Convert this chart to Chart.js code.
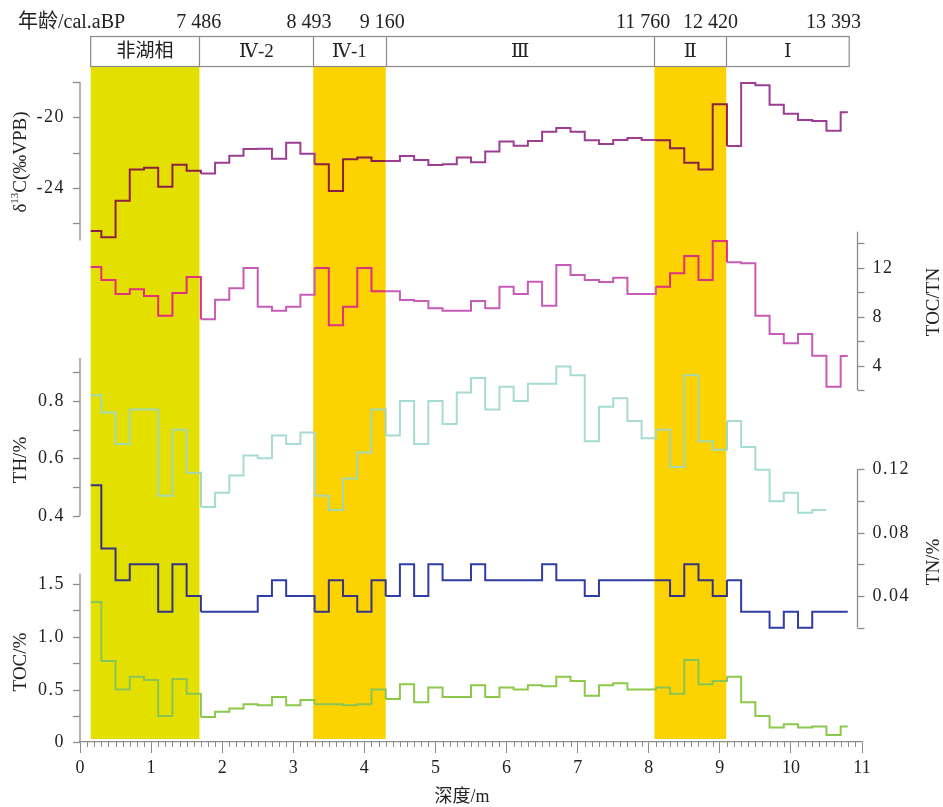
<!DOCTYPE html>
<html>
<head>
<meta charset="utf-8">
<script src="https://cdn.jsdelivr.net/npm/chart.js@4.4.1/dist/chart.umd.min.js"></script>
<style>
  html, body { margin: 0; padding: 0; background: #fff; }
</style>
</head>
<body>
<canvas id="chart" width="943" height="807"></canvas>
<script>
// 深度分层 (m)：每个样品的上界，最后一个为末端
const depthEdges = [0.15, 0.3, 0.5, 0.7, 0.9, 1.1, 1.3, 1.5, 1.7, 1.9, 2.1, 2.3, 2.5, 2.7, 2.9,
    3.1, 3.3, 3.5, 3.7, 3.9, 4.1, 4.3, 4.5, 4.7, 4.9, 5.1, 5.3, 5.5, 5.7, 5.9, 6.1, 6.3, 6.5,
    6.7, 6.9, 7.1, 7.3, 7.5, 7.7, 7.9, 8.1, 8.3, 8.5, 8.7, 8.9, 9.1, 9.3, 9.5, 9.7, 9.9, 10.1,
    10.3, 10.5, 10.7, 10.8];

// δ13C (‰VPB)
const d13C = [-26.46, -26.82, -24.74, -22.96, -22.86, -23.94, -22.69, -23.03, -23.2, -22.58,
    -22.18, -21.8, -21.78, -22.35, -21.44, -22.07, -22.67, -24.19, -22.39, -22.29,
    -22.48, -22.48, -22.2, -22.43, -22.71, -22.67, -22.28, -22.56, -21.95, -21.38,
    -21.61, -21.35, -20.82, -20.61, -20.82, -21.31, -21.52, -21.29, -21.18, -21.29,
    -21.3, -21.76, -22.58, -22.96, -19.26, -21.63, -18.05, -18.18, -19.28, -19.8,
    -20.15, -20.21, -20.76, -19.72];

// TOC/TN
const tocTn = [12.07, 11.0, 9.86, 10.24, 9.69, 8.08, 9.94, 11.25, 7.78, 9.39,
    10.32, 11.98, 8.82, 8.49, 8.82, 9.8, 11.98, 7.29, 8.82, 11.98,
    10.07, 10.07, 9.36, 9.28, 8.68, 8.49, 8.49, 9.28, 8.68, 10.45,
    9.86, 10.86, 8.9, 12.23, 11.41, 11.0, 10.84, 11.19, 9.86, 9.86,
    10.45, 11.55, 12.96, 11.0, 14.19, 12.45, 12.37, 8.08, 6.58, 5.82,
    6.58, 4.81, 2.27, 4.78];

// TH/%
const th = [0.82, 0.76, 0.65, 0.77, 0.77, 0.47, 0.70, 0.55, 0.43, 0.48,
    0.54, 0.61, 0.60, 0.68, 0.65, 0.69, 0.47, 0.42, 0.53, 0.62,
    0.77, 0.68, 0.80, 0.65, 0.80, 0.72, 0.83, 0.88, 0.77, 0.85,
    0.80, 0.86, 0.86, 0.92, 0.89, 0.66, 0.78, 0.81, 0.73, 0.67,
    0.70, 0.57, 0.89, 0.66, 0.63, 0.73, 0.64, 0.56, 0.45, 0.48,
    0.41, 0.42];

// TN/%
const tn = [0.11, 0.07, 0.05, 0.06, 0.06, 0.03, 0.06, 0.04, 0.03, 0.03,
    0.03, 0.03, 0.04, 0.05, 0.04, 0.04, 0.03, 0.05, 0.04, 0.03,
    0.05, 0.04, 0.06, 0.04, 0.06, 0.05, 0.05, 0.06, 0.05, 0.05,
    0.05, 0.05, 0.06, 0.05, 0.05, 0.04, 0.05, 0.05, 0.05, 0.05,
    0.05, 0.04, 0.06, 0.05, 0.04, 0.05, 0.03, 0.03, 0.02, 0.03,
    0.02, 0.03, 0.03, 0.03];

// TOC/%
const toc = [1.33, 0.77, 0.50, 0.62, 0.59, 0.25, 0.60, 0.46, 0.24, 0.29,
    0.32, 0.36, 0.35, 0.43, 0.35, 0.40, 0.36, 0.36, 0.35, 0.36,
    0.50, 0.41, 0.55, 0.38, 0.52, 0.43, 0.43, 0.54, 0.43, 0.52,
    0.50, 0.54, 0.53, 0.62, 0.58, 0.44, 0.54, 0.56, 0.50, 0.50,
    0.52, 0.46, 0.78, 0.55, 0.58, 0.62, 0.38, 0.25, 0.14, 0.17,
    0.14, 0.15, 0.07, 0.15];

// 阶段划分
const bands = [[0.15, 1.68], [3.28, 4.30], [8.08, 9.09]];
const stageEdges = [0.15, 1.68, 3.28, 4.30, 8.08, 9.09, 10.82];
const stageLabels = ['非湖相', 'Ⅳ-2', 'Ⅳ-1', 'Ⅲ', 'Ⅱ', 'Ⅰ'];
const ageLabels = ['7 486', '8 493', '9 160', '11 760', '12 420', '13 393'];
const ageDepths = [1.67, 3.22, 4.25, 7.92, 8.87, 10.6];

// 版面
const T = 66, B = 742;
const bandColors = ['#e3e000', '#fcd200', '#fcd200'];
const serif = '"Liberation Serif", "DejaVu Serif", "Noto Sans CJK SC", serif';
const cjk = '"Liberation Serif", "Noto Sans CJK SC", serif';
const axisGrey = '#8c8c8c';

// 各面板像素位置 -> 隐藏 y 轴的 min/max
function rangeFor(v1, y1, v2, y2) {
    const k = (v2 - v1) / (y1 - y2);
    return { min: v1 - (B - y1) * k, max: v2 + (y2 - T) * k };
}

const panels = {
    yD13C: { range: rangeFor(-24, 187.7, -20, 117.3), side: 'left', from: -27, to: -18,
        ticks: [-26, -24, -22, -20, -18], labels: ['', '-24', '', '-20', ''] },
    yRatio: { range: rangeFor(2, 390, 14, 243.3), side: 'right', from: 2, to: 14.95,
        ticks: [2, 4, 6, 8, 10, 12, 14], labels: ['', '4', '', '8', '', '12', ''] },
    yTH: { range: rangeFor(0.4, 515.7, 0.8, 401), side: 'left', from: 0.4, to: 0.95,
        ticks: [0.4, 0.5, 0.6, 0.7, 0.8, 0.9], labels: ['0.4', '', '0.6', '', '0.8', ''] },
    yTN: { range: rangeFor(0.02, 627.7, 0.12, 469.3), side: 'right', from: 0.02, to: 0.12,
        ticks: [0.02, 0.04, 0.06, 0.08, 0.10, 0.12], labels: ['', '0.04', '', '0.08', '', '0.12'] },
    yTOC: { range: rangeFor(0, 742.3, 1.5, 584), side: 'left', from: 0, to: 1.6,
        ticks: [0, 0.25, 0.5, 0.75, 1.0, 1.25, 1.5], labels: ['0', '', '0.5', '', '1.0', '', '1.5'] }
};

function inBand(x) {
    return bands.some(b => x >= b[0] - 0.01 && x < b[1]);
}

function steps(values) {
    const pts = values.map((v, i) => ({ x: depthEdges[i], y: v }));
    pts.push({ x: depthEdges[values.length], y: values[values.length - 1] });
    return pts;
}

function series(values, axis, color, bandColor) {
    return {
        data: steps(values),
        yAxisID: axis,
        borderColor: color,
        borderWidth: 2,
        pointRadius: 0,
        stepped: true,
        fill: false,
        segment: {
            borderColor: ctx => inBand(ctx.p0.parsed.x) ? bandColor : color
        }
    };
}

function txt(ctx, s, x, y, font, align, color) {
    ctx.font = font;
    ctx.textAlign = align;
    ctx.textBaseline = 'middle';
    ctx.fillStyle = color || '#222';
    ctx.fillText(s, x, y);
}

function vtitle(ctx, parts, x, y) {
    ctx.save();
    ctx.translate(x, y);
    ctx.rotate(-Math.PI / 2);
    ctx.textBaseline = 'middle';
    ctx.textAlign = 'left';
    ctx.fillStyle = '#222';
    let w = 0;
    parts.forEach(p => { ctx.font = p.font; w += ctx.measureText(p.t).width; });
    let cx = -w / 2;
    parts.forEach(p => {
        ctx.font = p.font;
        ctx.fillText(p.t, cx, p.dy || 0);
        cx += ctx.measureText(p.t).width;
    });
    ctx.restore();
}

const decor = {
    id: 'decor',
    beforeDatasetsDraw(chart) {
        const ctx = chart.ctx, xs = chart.scales.x;
        ctx.save();
        bands.forEach((b, i) => {
            const x0 = xs.getPixelForValue(b[0]), x1 = xs.getPixelForValue(b[1]);
            ctx.fillStyle = bandColors[i];
            ctx.fillRect(x0, chart.chartArea.top, x1 - x0, chart.chartArea.bottom - 3 - chart.chartArea.top);
        });
        ctx.restore();
    },
    afterDraw(chart) {
        const ctx = chart.ctx, xs = chart.scales.x;
        ctx.save();

        // 顶部年龄与分段
        txt(ctx, '年龄/cal.aBP', 18, 23, '20px ' + cjk, 'left');
        ageLabels.forEach((s, i) => txt(ctx, s, xs.getPixelForValue(ageDepths[i]), 23, '20px ' + serif, 'center'));
        const bx0 = xs.getPixelForValue(stageEdges[0]);
        const bx1 = xs.getPixelForValue(stageEdges[stageEdges.length - 1]);
        ctx.strokeStyle = '#8a8a8a';
        ctx.lineWidth = 1.2;
        ctx.strokeRect(bx0, 36.5, bx1 - bx0, 30);
        stageEdges.forEach((e, i) => {
            if (i === 0 || i === stageEdges.length - 1) return;
            const px = Math.round(xs.getPixelForValue(e)) + 0.5;
            ctx.beginPath(); ctx.moveTo(px, 36.5); ctx.lineTo(px, 66.5); ctx.stroke();
        });
        stageLabels.forEach((s, i) => {
            const cx = (xs.getPixelForValue(stageEdges[i]) + xs.getPixelForValue(stageEdges[i + 1])) / 2;
            txt(ctx, s, cx, 52, '19px ' + serif, 'center');
        });

        // x 轴次刻度
        ctx.strokeStyle = axisGrey;
        ctx.lineWidth = 1;
        for (let i = 1; i < 110; i++) {
            if (i % 10 === 0) continue;
            const px = Math.round(xs.getPixelForValue(i / 10)) + 0.5;
            ctx.beginPath(); ctx.moveTo(px, B); ctx.lineTo(px, B + 5); ctx.stroke();
        }
        txt(ctx, '深度/m', 462, 797, '18px ' + cjk, 'center');

        // y 轴
        ctx.letterSpacing = '1.5px';
        Object.keys(panels).forEach(id => {
            const p = panels[id], ys = chart.scales[id];
            const ax = p.side === 'left' ? xs.left : 857.5;
            const dir = p.side === 'left' ? -1 : 1;
            ctx.strokeStyle = axisGrey;
            ctx.lineWidth = 1.3;
            ctx.beginPath();
            ctx.moveTo(ax, ys.getPixelForValue(p.from));
            ctx.lineTo(ax, ys.getPixelForValue(p.to));
            ctx.stroke();
            p.ticks.forEach((t, i) => {
                const py = Math.round(ys.getPixelForValue(t)) + 0.5;
                ctx.beginPath(); ctx.moveTo(ax, py); ctx.lineTo(ax + dir * 7, py); ctx.stroke();
                if (p.labels[i]) {
                    txt(ctx, p.labels[i], ax + dir * 15, py, '18px ' + serif,
                        p.side === 'left' ? 'right' : 'left');
                }
            });
        });
        ctx.letterSpacing = '0px';

        const f = '19px ' + serif;
        vtitle(ctx, [{ t: 'δ', font: f }, { t: '13', font: '11px ' + serif, dy: -6 }, { t: 'C(‰VPB)', font: f }], 21, 162);
        vtitle(ctx, [{ t: 'TH/%', font: f }], 21, 460);
        vtitle(ctx, [{ t: 'TOC/%', font: f }], 21, 662);
        vtitle(ctx, [{ t: 'TOC/TN', font: f }], 934, 302);
        vtitle(ctx, [{ t: 'TN/%', font: f }], 934, 562);
        ctx.restore();
    }
};

const yScales = {};
Object.keys(panels).forEach(id => {
    yScales[id] = { type: 'linear', display: false, min: panels[id].range.min, max: panels[id].range.max };
});

new Chart(document.getElementById('chart'), {
    type: 'line',
    data: {
        datasets: [
            series(d13C, 'yD13C', '#9b3d92', '#8c1f45'),
            series(tocTn, 'yRatio', '#c65cb6', '#e0307e'),
            series(th, 'yTH', '#a6dcd3', '#a2d6b4'),
            series(tn, 'yTN', '#2f3ea0', '#363581'),
            series(toc, 'yTOC', '#8cc84a', '#88c555')
        ]
    },
    options: {
        responsive: false,
        animation: false,
        devicePixelRatio: 1,
        layout: { padding: { top: T, left: 80, right: 943 - 862, bottom: 0 } },
        plugins: { legend: { display: false }, tooltip: { enabled: false } },
        scales: Object.assign({
            x: {
                type: 'linear',
                min: 0,
                max: 11,
                afterFit: s => { s.height = 807 - B; },
                ticks: { stepSize: 1, maxRotation: 0, padding: 4, color: '#222', font: { family: serif, size: 18 } },
                grid: { drawOnChartArea: false, tickLength: 11, color: axisGrey },
                border: { color: axisGrey, width: 1.3 }
            }
        }, yScales)
    },
    plugins: [decor]
});
</script>
</body>
</html>
